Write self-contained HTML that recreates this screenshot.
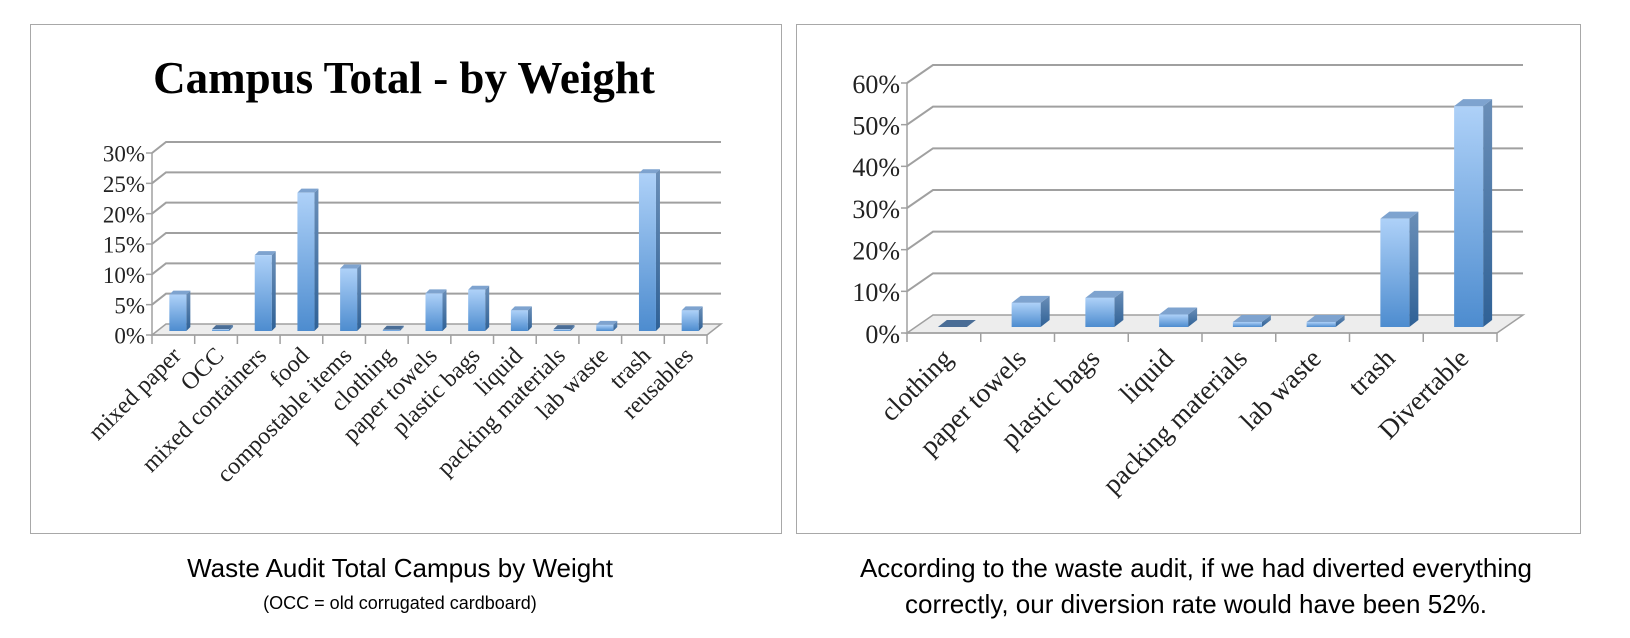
<!DOCTYPE html>
<html><head><meta charset="utf-8">
<style>
html,body{margin:0;padding:0;background:#fff;}
body{width:1630px;height:638px;overflow:hidden;position:relative;font-family:"Liberation Sans",sans-serif;}
.frame{position:absolute;border:1.5px solid #a8a8a8;box-sizing:border-box;}
.cap{position:absolute;text-align:center;color:#000;}
svg{position:absolute;left:0;top:0;}
</style></head>
<body>
<div class="frame" style="left:30px;top:24px;width:752px;height:510px;"></div>
<div class="frame" style="left:796px;top:24px;width:785px;height:510px;"></div>
<div class="cap" style="left:80px;top:552px;width:640px;font-size:26px;line-height:32px;">Waste Audit Total Campus by Weight</div>
<div class="cap" style="left:80px;top:592px;width:640px;font-size:18px;line-height:22px;">(OCC = old corrugated cardboard)</div>
<div class="cap" style="left:836px;top:550px;width:720px;font-size:26px;line-height:36px;">According to the waste audit, if we had diverted everything correctly, our diversion rate would have been 52%.</div>
<svg id="chart" width="1630" height="638">
<defs>
<linearGradient id="gf" x1="0" y1="0" x2="0" y2="1"><stop offset="0" stop-color="#aed1f8"/><stop offset="1" stop-color="#4d8ccf"/></linearGradient>
<linearGradient id="gs" x1="0" y1="0" x2="0" y2="1"><stop offset="0" stop-color="#6b8fb8"/><stop offset="1" stop-color="#2f6196"/></linearGradient>
</defs>
<text x="404" y="93" text-anchor="middle" font-family="'Liberation Serif',serif" font-weight="bold" font-size="45">Campus Total - by Weight</text>
</svg>
<script>
const leftCategories=["mixed paper","OCC","mixed containers","food","compostable items","clothing","paper towels","plastic bags","liquid","packing materials","lab waste","trash","reusables"];
const leftValues=[6,0.3,12.5,22.8,10.3,0.2,6.2,6.8,3.4,0.3,1,26,3.4];
const leftTicks=[0,5,10,15,20,25,30];
const rightCategories=["clothing","paper towels","plastic bags","liquid","packing materials","lab waste","trash","Divertable"];
const rightValues=[0,5.8,7,3,1.2,1.2,26,53];
const rightTicks=[0,10,20,30,40,50,60];

const svg=document.getElementById('chart');
const NS='http://www.w3.org/2000/svg';
function mk(tag,attrs,parent){const e=document.createElementNS(NS,tag);for(const k in attrs)e.setAttribute(k,attrs[k]);(parent||svg).appendChild(e);return e;}

function draw(cfg,cats,vals,ticks,prefix){
  const g=mk('g',{});
  
  
  const maxT=ticks[ticks.length-1];
  const y=v=>cfg.y0-(v/maxT)*(cfg.y0-cfg.yTop);
  const step=(cfg.xEnd-cfg.x0)/cats.length;
  const gridColor='#a0a0a0';
  const fl=mk('polygon',{points:`${cfg.x0},${cfg.y0} ${cfg.x0+cfg.dx},${cfg.y0-cfg.dy} ${cfg.backEnd},${cfg.y0-cfg.dy} ${cfg.xEnd},${cfg.y0}`,fill:'#ededed',stroke:gridColor,'stroke-width':1.5},g);
  
  
  ticks.forEach((t,i)=>{
    const yy=y(t);
    if(i>0){
      const gl=mk('polyline',{points:`${cfg.x0},${yy} ${cfg.x0+cfg.dx},${yy-cfg.dy} ${cfg.backEnd},${yy-cfg.dy}`,fill:'none',stroke:gridColor,'stroke-width':2},g);
      
      
    }
    mk('line',{x1:cfg.x0-6,y1:yy,x2:cfg.x0,y2:yy,stroke:gridColor,'stroke-width':1.5},g);
    const tx=mk('text',{x:cfg.x0-7,y:yy+cfg.yfs*0.38,'text-anchor':'end','font-family':"'Liberation Serif',serif",'font-size':cfg.yfs,fill:'#222'},g);
    tx.textContent=t+'%';
    
    
  });
  mk('line',{x1:cfg.x0,y1:cfg.y0,x2:cfg.x0,y2:cfg.yTop,stroke:gridColor,'stroke-width':1.5},g);
  mk('line',{x1:cfg.x0,y1:cfg.y0,x2:cfg.xEnd,y2:cfg.y0,stroke:gridColor,'stroke-width':1.5},g);
  for(let i=0;i<=cats.length;i++){
    const xx=cfg.x0+i*step;
    mk('line',{x1:xx,y1:cfg.y0,x2:xx,y2:cfg.y0+9,stroke:gridColor,'stroke-width':1.5},g);
  }
  cats.forEach((c,i)=>{
    const cx=cfg.x0+(i+0.5)*step;
    const bl=cx+cfg.bOff, bw=cfg.bw, sd=cfg.sd, td=cfg.td;
    const bottom=cfg.y0-cfg.lift;
    const top=bottom-(vals[i]/maxT)*(cfg.y0-cfg.yTop);
    const bg=mk('g',{},g);
    
    
    mk('polygon',{points:`${bl+bw},${top} ${bl+bw+sd},${top-td} ${bl+bw+sd},${bottom-td} ${bl+bw},${bottom}`,fill:'url(#gs)'},bg);
    mk('polygon',{points:`${bl},${top} ${bl+sd},${top-td} ${bl+bw+sd},${top-td} ${bl+bw},${top}`,fill:vals[i]<0.5?'#4a6d96':'#7ea3cf'},bg);
    if(top<bottom) mk('rect',{x:bl,y:top,width:bw,height:bottom-top,fill:'url(#gf)'},bg);
    const lx=cx+cfg.lOff, ly=cfg.y0+cfg.lY;
    const lt=mk('text',{x:lx,y:ly,'text-anchor':'end','font-family':"'Liberation Serif',serif",'font-size':cfg.fs,fill:'#222',transform:`rotate(-45 ${lx} ${ly})`},g);
    lt.textContent=c;
    
    
  });
}
draw({x0:152,xEnd:707,y0:335,yTop:153,dx:14,dy:11,backEnd:721,bw:17,sd:4,td:4,bOff:-4,lift:4,lOff:9,lY:22,fs:24,yfs:23},leftCategories,leftValues,leftTicks,'left');
draw({x0:907,xEnd:1497,y0:333,yTop:83,dx:26,dy:18,backEnd:1523,bw:29,sd:9,td:7,bOff:-6,lift:6,lOff:10,lY:27,fs:27,yfs:26},rightCategories,rightValues,rightTicks,'right');
</script>
</body></html>
